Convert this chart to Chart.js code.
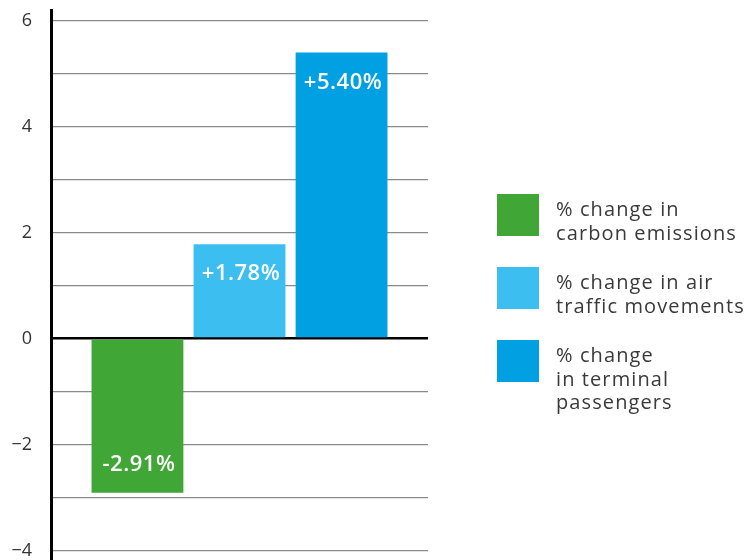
<!DOCTYPE html>
<html>
<head>
<meta charset="utf-8">
<script src="https://cdn.jsdelivr.net/npm/chart.js@4"></script>
<style>
    body { margin: 0; background: #fff; }
    #wrap { position: relative; width: 751px; height: 560px; }
    #legend { position: absolute; left: 497px; top: 194px; font-family: "Open Sans", sans-serif; font-size: 20px; color: #3a3a3a; }
    .item { position: relative; height: 73px; }
    .box { position: absolute; left: 0; top: 0; width: 42px; height: 42px; }
    .txt { position: absolute; left: 59px; top: 3px; line-height: 23.5px; white-space: nowrap; letter-spacing: 1.1px; }
</style>
</head>
<body>
<div id="wrap">
    <canvas id="chart" width="751" height="560"></canvas>
    <div id="legend"></div>
</div>
<script>
// data
let seriesNames = [
    ["% change in", "carbon emissions"],
    ["% change in air", "traffic movements"],
    ["% change", "in terminal", "passengers"]
];
let seriesValues = [-2.91, 1.78, 5.40];
let seriesColors = ["#40a736", "#3cbff0", "#00a0e2"];
let yTicks = [-4, -3, -2, -1, 0, 1, 2, 3, 4, 5, 6];
let yLabels = [-4, -2, 0, 2, 4, 6];

let datasets = [];
for (let i = 0; i < seriesValues.length; i++) {
    datasets.push({
        label: seriesNames[i].join(" "),
        data: [seriesValues[i]],
        backgroundColor: seriesColors[i],
        barPercentage: 0.9,
        categoryPercentage: 0.812
    });
}

// value labels inside the bars
let barLabels = {
    id: "barLabels",
    afterDatasetsDraw: function (chart) {
        let ctx = chart.ctx;
        ctx.save();
        ctx.fillStyle = "#fff";
        ctx.font = "600 22px 'Open Sans'";
        ctx.letterSpacing = "0.5px";
        ctx.textAlign = "center";
        ctx.textBaseline = "middle";
        chart.data.datasets.forEach(function (ds, i) {
            let bar = chart.getDatasetMeta(i).data[0];
            let v = ds.data[0];
            let txt = (v > 0 ? "+" : "") + v.toFixed(2) + "%";
            let y = v > 0 ? bar.y + 30 : bar.y - 28;
            ctx.fillText(txt, bar.x + 1.5, y);
        });
        ctx.restore();
    }
};

new Chart(document.getElementById("chart"), {
    type: "bar",
    data: { labels: [""], datasets: datasets },
    options: {
        responsive: false,
        animation: false,
        layout: { padding: { top: 10, right: 323, bottom: 0, left: 0 } },
        plugins: { legend: { display: false }, tooltip: { enabled: false } },
        scales: {
            x: { display: false },
            y: {
                min: -4.18,
                max: 6.2,
                afterBuildTicks: function (scale) {
                    scale.ticks = yTicks.map(function (v) { return { value: v } });
                },
                afterFit: function (scale) {
                    scale.width = 51;
                    scale.paddingTop = 0;
                    scale.paddingBottom = 0;
                },
                border: { color: "#000", width: 3 },
                grid: {
                    drawTicks: false,
                    color: function (c) { return c.tick.value == 0 ? "#000" : "#8a8a8a"; },
                    lineWidth: function (c) { return c.tick.value == 0 ? 2.5 : 1.2; }
                },
                ticks: {
                    padding: 19,
                    color: "#333",
                    font: { family: "Open Sans", size: 18 },
                    callback: function (v) {
                        if (yLabels.indexOf(v) < 0) return "";
                        return String(v).replace("-", "\u2212");
                    }
                }
            }
        }
    },
    plugins: [barLabels]
});

// legend
let legend = document.getElementById("legend");
for (let i = 0; i < seriesNames.length; i++) {
    let item = '<div class="item"><div class="box" style="background:' + seriesColors[i] + '"></div>'
        + '<div class="txt">' + seriesNames[i].join("<br>") + '</div></div>';
    legend.innerHTML += item;
}
</script>
</body>
</html>
